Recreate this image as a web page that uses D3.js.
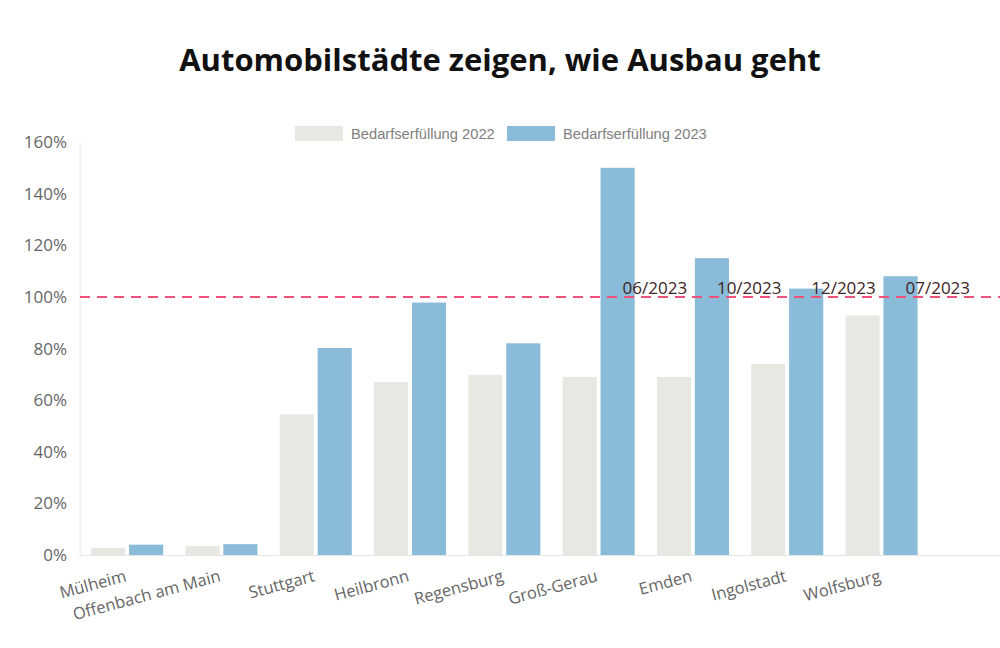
<!DOCTYPE html>
<html>
<head>
<meta charset="utf-8">
<script src="https://cdn.jsdelivr.net/npm/d3@7"></script>
<style>
  body { margin: 0; background: #fff; }
  svg { display: block; font-family: "Open Sans", sans-serif; }
</style>
</head>
<body>
<svg id="chart" width="1000" height="648"></svg>
<script>
// data
const cities = ["Mülheim", "Offenbach am Main", "Stuttgart", "Heilbronn", "Regensburg",
                "Groß-Gerau", "Emden", "Ingolstadt", "Wolfsburg"]
const values2022 = [2.8, 3.5, 54.5, 67, 69.8, 69, 69, 74, 92.8]
const values2023 = [4, 4.2, 80.2, 97.8, 82, 150, 115, 103.2, 108]
const reachedLabels = [null, null, null, null, null, "06/2023", "10/2023", "12/2023", "07/2023"]
const yTicks = [0, 20, 40, 60, 80, 100, 120, 140, 160]
const seriesNames = ["Bedarfserfüllung 2022", "Bedarfserfüllung 2023"]
const colors = ["#e8e7e2", "#8abbd8"]

const width = 1000
const plotLeft = 80, plotRight = 1000, plotTop = 142, plotBottom = 555

const svg = d3.select("#chart")

// title
svg.append("text")
   .attr("x", width / 2).attr("y", 71)
   .attr("text-anchor", "middle")
   .style("font-size", "31px").style("font-weight", "700").style("fill", "#111")
   .text("Automobilstädte zeigen, wie Ausbau geht")

// scales
const x = d3.scaleBand().domain(cities).range([plotLeft, plotLeft + 94.3 * cities.length]).paddingInner(0.236).paddingOuter(0.118)
const xSub = d3.scaleBand().domain([0, 1]).range([0, x.bandwidth()]).paddingInner(0.1)
const y = d3.scaleLinear().domain([0, 160]).range([plotBottom, plotTop])

// axes lines
svg.append("line").attr("x1", plotLeft).attr("x2", plotLeft).attr("y1", plotTop).attr("y2", plotBottom)
   .attr("stroke", "#e6e6e6").attr("stroke-width", 1)
svg.append("line").attr("x1", plotLeft).attr("x2", plotRight).attr("y1", plotBottom + 0.5).attr("y2", plotBottom + 0.5)
   .attr("stroke", "#e6e6e6").attr("stroke-width", 1)

// y tick labels
svg.append("g").selectAll("text").data(yTicks).join("text")
   .attr("x", 67).attr("y", d => y(d) + 6)
   .attr("text-anchor", "end")
   .style("font-size", "17px").style("fill", "#666")
   .text(d => d + "%")

// bars
const series = [values2022, values2023]
series.forEach((vals, s) => {
  svg.append("g").selectAll("rect").data(vals).join("rect")
     .attr("x", (d, i) => x(cities[i]) + xSub(s))
     .attr("width", xSub.bandwidth())
     .attr("y", d => y(d))
     .attr("height", d => plotBottom - y(d))
     .attr("fill", colors[s])
})

// 100% line
svg.append("line").attr("x1", plotLeft).attr("x2", plotRight).attr("y1", y(100)).attr("y2", y(100))
   .attr("stroke", "#f0527c").attr("stroke-width", 2).attr("stroke-dasharray", "10,7")

// reached labels
const reached = cities.map((c, i) => ({ city: c, label: reachedLabels[i] })).filter(d => d.label)
svg.append("g").selectAll("text").data(reached).join("text")
   .attr("x", d => x(d.city) + xSub(1) + xSub.bandwidth() / 2 + 5)
   .attr("y", y(100) - 3)
   .style("font-size", "17px").style("fill", "#3d2426")
   .text(d => d.label)

// category labels, end anchored at the band centre
svg.append("g").selectAll("text").data(cities).join("text")
   .attr("text-anchor", "end")
   .attr("transform", d => `translate(${x(d) + x.bandwidth() / 2},581) rotate(-15)`)
   .style("font-size", "16.5px").style("fill", "#666")
   .text(d => d)

// legend
const legend = svg.append("g").style("font-family", "'Liberation Sans', Arial, sans-serif")
const legendX = [295, 507]
seriesNames.forEach((name, s) => {
  legend.append("rect").attr("x", legendX[s]).attr("y", 126).attr("width", 48).attr("height", 15).attr("fill", colors[s])
  legend.append("text").attr("x", legendX[s] + 56).attr("y", 139)
        .style("font-size", "14.7px").style("fill", "#808080").text(name)
})
</script>
</body>
</html>
